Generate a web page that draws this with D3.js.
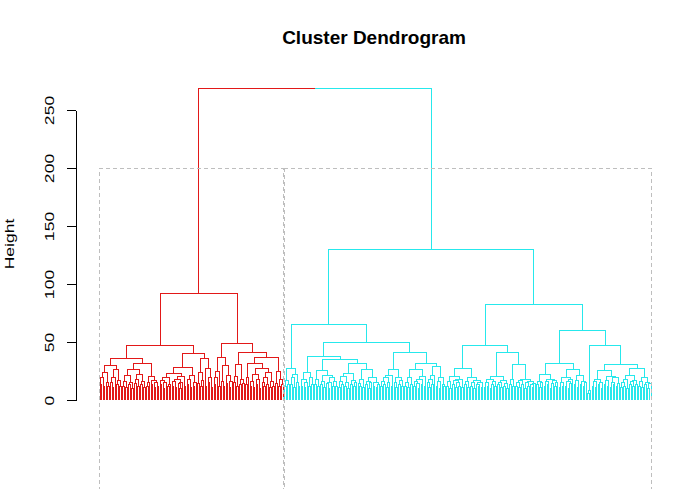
<!DOCTYPE html>
<html>
<head>
<meta charset="utf-8">
<script src="https://cdn.jsdelivr.net/npm/d3@7"></script>
<style>
  body { margin: 0; background: #fff; }
  svg { display: block; }
  text { font-family: "Liberation Sans", Arial, sans-serif; }
</style>
</head>
<body>
<div id="chart"></div>
<script>
// y axis ticks
const yTicks = [0, 50, 100, 150, 200, 250];

// height of the top merge (red cluster joins cyan cluster)
const rootHeight = 268.7;

// cut used by rect.hclust (k = 2)
const cutHeight = 200;

// merge height between each pair of neighbouring leaves, left to right (red cluster, 123 leaves)
const redGaps = [
  13, 19, 12, 24, 15, 12, 29.5, 15, 11, 19, 26.7, 13, 17, 12,
  35.5,
  12, 16, 11, 21, 13, 15, 10, 26, 14, 18, 12, 22, 13, 16, 11, 31.6, 12, 15, 20, 13, 17, 11, 15, 12,
  47.3,
  13, 17, 10, 15, 19, 12, 13, 23, 12, 16, 11, 18, 14, 10, 15, 20, 12, 28.4, 13, 18, 11, 21, 12, 15,
  40,
  14, 24, 12, 17, 36, 12, 27, 15, 19, 11,
  92,
  13, 19, 25, 12, 37, 16, 12, 30, 14, 21, 11, 16,
  49,
  15, 20, 12, 31, 13, 18, 14,
  41,
  13, 19, 31.6, 12, 16, 11, 22, 13, 18, 10, 27, 15, 12, 19, 13, 24, 11, 16, 12, 36.5, 14, 25, 12, 18, 13
];

// same for the cyan cluster (245 leaves)
const cyanGaps = [
  12, 17, 13, 27.3, 13, 19, 11, 22, 15, 12,
  65.5,
  12, 18, 11, 15, 24, 12, 19, 13,
  37.4,
  13, 18, 12, 25.6, 13, 16, 11, 21, 14, 10, 15, 19, 12, 16, 12,
  34.5,
  11, 16, 13, 20, 12, 15, 10, 23, 13, 17, 12, 15, 31.6, 14, 12, 18, 11, 26, 13, 16, 10, 15, 19, 12, 15, 11, 13,
  49.7,
  12, 16, 13, 19, 11, 15, 21, 12, 26.4, 15, 11, 19, 13, 17, 12,
  40.8,
  12, 15, 11, 19, 13, 26.4, 12, 16, 14, 10, 18, 13, 20, 12, 31.6, 15, 11, 18, 13, 21, 29.3, 12, 16, 10, 19, 13, 12,
  130,
  12, 16, 10, 20, 13, 17, 11, 15, 12, 18, 11, 27.3, 13, 16, 11, 19, 12, 15, 10, 17, 13, 12, 15, 11,
  46.8,
  11, 15, 12, 18, 10, 13, 16, 12, 20, 13, 15, 11, 17, 12, 14, 10,
  41,
  13, 18, 12, 30.7, 12, 15, 11, 17, 13, 18, 10, 15, 12, 16, 13, 11, 14,
  82,
  13, 16, 11, 15, 22, 12, 16, 13, 18, 10, 14, 17, 12, 15,
  31.6,
  11, 15, 12, 19, 12, 16, 10, 14, 18, 26.4, 13, 17, 11, 21, 13, 16, 12, 15,
  60,
  6, 8,
  46.8,
  12, 16, 11, 18, 13, 15, 10, 25.6, 13, 17, 12, 20, 11, 15, 13, 19, 12, 14,
  31,
  11, 15, 12, 18, 10, 21, 13, 16, 12, 17, 13, 27.3, 12, 16, 11, 19, 13, 15, 10, 14
];

const clusterColors = ["#E21818", "#26E8EC"];

function buildDendrogram() {
  const width = 692;
  const height = 489;

  const redN = redGaps.length + 1;
  const allGaps = redGaps.concat([rootHeight], cyanGaps);
  const n = allGaps.length + 1;

  // split recursively at the largest neighbour merge height
  function buildTree(lo, hi) {
    if (lo === hi) return { leaf: lo };
    let k = lo;
    for (let i = lo; i < hi; i++) {
      if (allGaps[i] > allGaps[k]) k = i;
    }
    return { height: allGaps[k], children: [buildTree(lo, k), buildTree(k + 1, hi)] };
  }

  const x = d3.scaleLinear().domain([0, n - 1]).range([100, 651]);
  const y = d3.scaleLinear().domain([0, 250]).range([400, 110]);

  const svg = d3.select("#chart")
    .append("svg")
    .attr("width", width)
    .attr("height", height);

  const root = d3.hierarchy(buildTree(0, n - 1));
  root.eachAfter((d) => {
    if (!d.children) {
      d.px = x(d.data.leaf);
      d.h = 0;
      d.first = d.data.leaf;
    } else {
      d.px = d3.mean(d.children, (c) => c.px);
      d.h = d.data.height;
      d.first = d.children[0].first;
    }
  });

  // branches
  svg.append("g")
    .attr("fill", "none")
    .attr("stroke-width", 1)
    .attr("shape-rendering", "crispEdges")
    .selectAll("path")
    .data(root.links())
    .join("path")
    .attr("stroke", (l) => clusterColors[l.target.first < redN ? 0 : 1])
    .attr("d", (l) => `M${l.source.px},${y(l.source.h)}H${l.target.px}V${y(l.target.h)}`);

  // rect.hclust boxes
  const boxes = [
    [-0.34, redN - 1 + 0.33],
    [redN - 1 + 0.66, n - 1 + 0.33]
  ];
  svg.append("g")
    .selectAll("rect")
    .data(boxes)
    .join("rect")
    .attr("x", (d) => x(d[0]))
    .attr("width", (d) => x(d[1]) - x(d[0]))
    .attr("y", y(cutHeight))
    .attr("height", 520 - y(cutHeight))
    .attr("fill", "none")
    .attr("stroke", "#BEBEBE")
    .attr("stroke-dasharray", "4,3")
    .attr("shape-rendering", "crispEdges");

  // y axis
  const yAxis = d3.axisLeft(y).tickValues(yTicks).tickSize(9).tickSizeOuter(0);
  const ag = svg.append("g")
    .attr("transform", "translate(76,0)")
    .call(yAxis)
    .attr("font-size", 13)
    .attr("font-family", "'Liberation Sans', Arial, sans-serif");
  ag.selectAll("path, line").attr("stroke", "#000").attr("shape-rendering", "crispEdges");
  ag.selectAll("text")
    .attr("x", 0)
    .attr("dy", null)
    .attr("fill", "#000")
    .attr("text-anchor", "middle")
    .attr("transform", "translate(-22.5,0) rotate(-90) scale(1.35,1)");

  svg.append("text")
    .attr("transform", "translate(13.5,244) rotate(-90) scale(1.35,1)")
    .attr("text-anchor", "middle")
    .attr("font-size", 13)
    .text("Height");

  svg.append("text")
    .attr("x", 374)
    .attr("y", 44)
    .attr("text-anchor", "middle")
    .attr("font-size", 19)
    .attr("font-weight", "bold")
    .text("Cluster Dendrogram");
}

window.onload = buildDendrogram;
</script>
</body>
</html>
